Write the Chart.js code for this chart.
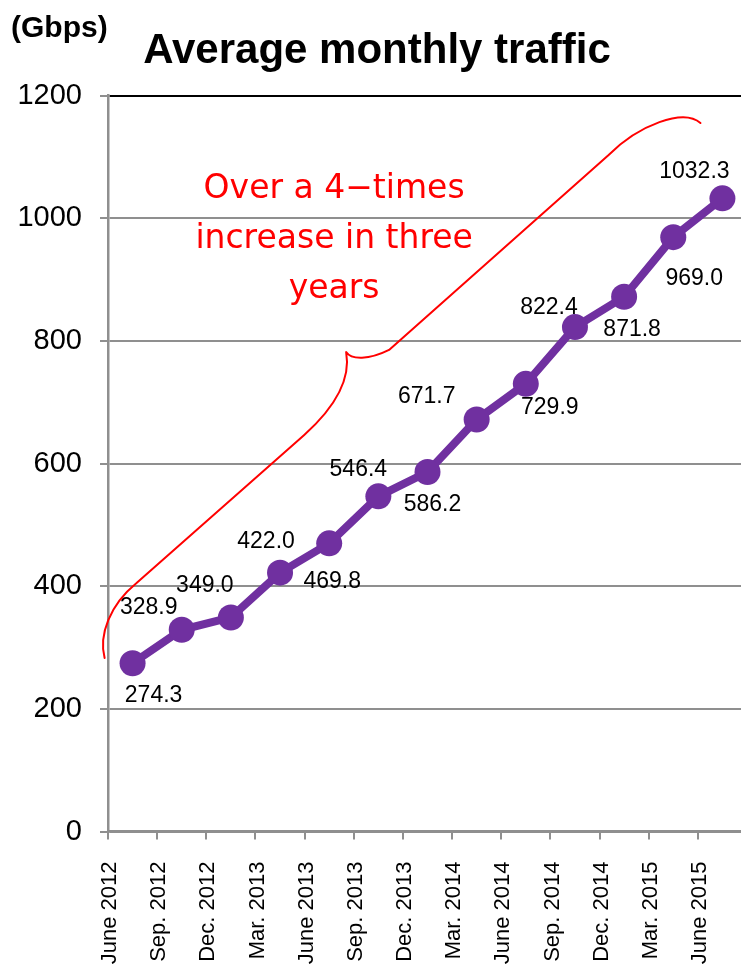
<!DOCTYPE html>
<html>
<head>
<meta charset="utf-8">
<script src="https://cdn.jsdelivr.net/npm/chart.js@4/dist/chart.umd.min.js"></script>
<style>
  html, body { margin: 0; padding: 0; background: #fff; overflow: hidden; }
  #wrap { width: 760px; height: 966px; }
</style>
</head>
<body>
<div id="wrap"><canvas id="c" width="760" height="966"></canvas></div>
<script>
// Quarterly periods on the x axis
const periods = [
  'June 2012', 'Sep. 2012', 'Dec. 2012', 'Mar. 2013', 'June 2013', 'Sep. 2013',
  'Dec. 2013', 'Mar. 2014', 'June 2014', 'Sep. 2014', 'Dec. 2014', 'Mar. 2015', 'June 2015'
];
// Average monthly traffic, Gbps
const trafficGbps = [274.3, 328.9, 349.0, 422.0, 469.8, 546.4, 586.2, 671.7, 729.9, 822.4, 871.8, 969.0, 1032.3];
// Value axis ticks
const yTicks = [0, 200, 400, 600, 800, 1000, 1200];

const chartTitle = 'Average monthly traffic';
const unitLabel = '(Gbps)';
const noteLines = ['Over a 4\u2212times', 'increase in three', 'years'];

// Where each value label sits relative to its point (px)
const valueLabelShift = [
  [21, 32], [-33, -22], [-26, -32], [-14, -31], [3, 38], [-20, -27], [5, 33],
  [-50, -23], [24, 24], [-26, -19], [8, 33], [21, 41], [-28, -27]
];

// Curly brace spanning the growth period, in (period index, Gbps) space
const bracePath = [
  ['M', -0.569, 282.9],
  ['C', -0.690, 320.4, -0.467, 369.3, 0.081, 405.2],
  ['L', 3.492, 646.5],
  ['C', 4.102, 690.5, 4.447, 736.2, 4.345, 781.8],
  ['C', 4.447, 768.8, 4.812, 768.8, 5.218, 785.1],
  ['L', 9.685, 1103.0],
  ['C', 10.294, 1151.9, 11.208, 1179.6, 11.553, 1155.2]
];
// Note anchor (period index, Gbps of first baseline)
const noteAnchor = [4.10, 1033];

const PURPLE = '#7030A0';
const GRID = '#8f8f8f';

const annotations = {
  id: 'annotations',
  afterDatasetsDraw(chart) {
    const ctx = chart.ctx;
    const xs = chart.scales.x, ys = chart.scales.y;
    const X = v => xs.getPixelForValue(v);
    const Y = v => ys.getPixelForValue(v);

    // value labels
    const meta = chart.getDatasetMeta(0);
    ctx.save();
    ctx.font = '23px Arial, "Liberation Sans", sans-serif';
    ctx.fillStyle = '#000';
    ctx.textAlign = 'center';
    ctx.textBaseline = 'middle';
    meta.data.forEach((pt, i) => {
      const [dx, dy] = valueLabelShift[i];
      ctx.fillText(trafficGbps[i].toFixed(1), pt.x + dx, pt.y + dy);
    });
    ctx.restore();

    // brace
    ctx.save();
    ctx.strokeStyle = '#ff0000';
    ctx.lineWidth = 2;
    ctx.lineCap = 'round';
    ctx.lineJoin = 'round';
    ctx.beginPath();
    bracePath.forEach(seg => {
      if (seg[0] === 'M') ctx.moveTo(X(seg[1]), Y(seg[2]));
      else if (seg[0] === 'L') ctx.lineTo(X(seg[1]), Y(seg[2]));
      else ctx.bezierCurveTo(X(seg[1]), Y(seg[2]), X(seg[3]), Y(seg[4]), X(seg[5]), Y(seg[6]));
    });
    ctx.stroke();

    // note text
    ctx.fillStyle = '#ff0000';
    ctx.font = '33px "DejaVu Sans", sans-serif';
    ctx.textAlign = 'center';
    ctx.textBaseline = 'alphabetic';
    const nx = X(noteAnchor[0]), ny = Y(noteAnchor[1]);
    noteLines.forEach((t, i) => ctx.fillText(t, nx, ny + i * 50));
    ctx.restore();
  },
  afterDraw(chart) {
    const ctx = chart.ctx;
    ctx.save();
    ctx.fillStyle = '#000';
    ctx.textBaseline = 'alphabetic';
    ctx.textAlign = 'center';
    ctx.font = 'bold 42px Arial, "Liberation Sans", sans-serif';
    ctx.fillText(chartTitle, 377, 63);
    ctx.textAlign = 'left';
    ctx.font = 'bold 30px Arial, "Liberation Sans", sans-serif';
    ctx.fillText(unitLabel, 11, 37);
    ctx.restore();
  }
};

new Chart(document.getElementById('c'), {
  type: 'line',
  data: {
    labels: periods,
    datasets: [{
      data: trafficGbps,
      borderColor: PURPLE,
      backgroundColor: PURPLE,
      borderWidth: 8,
      pointRadius: 13,
      pointHoverRadius: 13,
      pointBackgroundColor: PURPLE,
      pointBorderColor: PURPLE,
      pointBorderWidth: 0,
      tension: 0,
      clip: false
    }]
  },
  options: {
    responsive: false,
    animation: false,
    devicePixelRatio: 1,
    layout: { padding: { top: 95.5, right: 11.75, bottom: 0, left: 0 } },
    plugins: {
      legend: { display: false },
      tooltip: { enabled: false },
      title: { display: false }
    },
    scales: {
      x: {
        type: 'category',
        offset: true,
        afterFit(scale) {
          scale.height = 134.5;
          scale.paddingLeft = 0;
          scale.paddingRight = 0;
        },
        grid: {
          display: true,
          offset: true,
          drawOnChartArea: false,
          drawTicks: true,
          tickLength: 8,
          color: GRID,
          lineWidth: 2
        },
        border: { display: true, color: GRID, width: 2.5 },
        ticks: {
          autoSkip: false,
          minRotation: 90,
          maxRotation: 90,
          labelOffset: -22.5,
          padding: 22,
          color: '#000',
          font: { family: 'Arial, "Liberation Sans", sans-serif', size: 22 }
        }
      },
      y: {
        min: 0,
        max: 1200,
        afterFit(scale) {
          scale.width = 108;
          scale.paddingTop = 0;
          scale.paddingBottom = 0;
        },
        afterBuildTicks(scale) { scale.ticks = yTicks.map(v => ({ value: v })); },
        grid: {
          color: c => (c.tick && c.tick.value === 1200 ? '#000' : GRID),
          tickColor: GRID,
          lineWidth: 2,
          tickLength: 8,
          drawTicks: true
        },
        border: { display: true, color: GRID, width: 2.5 },
        ticks: {
          padding: 18,
          color: '#000',
          font: { family: 'Arial, "Liberation Sans", sans-serif', size: 29 },
          callback: v => String(v)
        }
      }
    }
  },
  plugins: [annotations]
});
</script>
</body>
</html>
